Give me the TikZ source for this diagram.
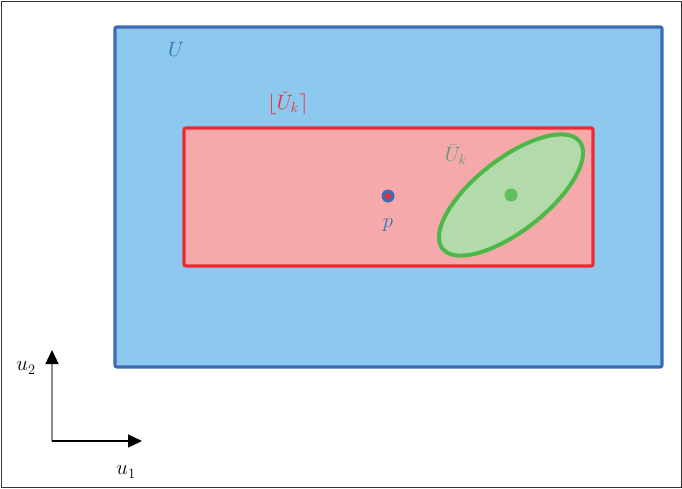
\documentclass[tikz,border=0pt]{standalone}
\usepackage{tikz}
\usetikzlibrary{
  positioning,
  arrows.meta
}
\usepackage{amsmath,amssymb}
\usepackage{xcolor}
\definecolor{skyfill}{HTML}{8DC8EE}
\definecolor{skyline}{HTML}{3E6BB5}
\definecolor{skytext}{HTML}{2E75B6}
\definecolor{rosefill}{HTML}{F5A9AB}
\definecolor{roseline}{HTML}{EE2A2F}
\definecolor{leaffill}{HTML}{B3DAAA}
\definecolor{leafline}{HTML}{4DB848}
\definecolor{leaftext}{HTML}{5A9A7A}

\begin{document}
\begin{tikzpicture}[
  x=1pt, y=-1pt,
  region/.style={line width=3.2pt, rounded corners=2pt},
  lbl/.style={font=\fontsize{21}{25}\selectfont, inner sep=0pt},
  axis/.style={-{Triangle[length=14pt, width=13pt, black]}, line width=1.3pt}
]
  \useasboundingbox (0,0) rectangle (682,488);
  \draw[black!80, line width=0.9pt] (1,1) rectangle (681,487);

  % open set U
  \draw[region, draw=skyline, fill=skyfill] (115,27) rectangle (662,367);
  \node[lbl, skytext] (ulabel) at (176,49) {$U$};

  % box around the chart image
  \draw[region, draw=roseline, fill=rosefill] (184,128) rectangle (593,266);
  \node[lbl, roseline] (boxlabel) at (288,103) {$\lfloor \check{U}_k \rceil$};

  % point p
  \node[circle, fill=skyline, minimum size=13pt, inner sep=0pt] (p) at (388,196) {};
  \node[circle, fill=roseline, minimum size=6pt, inner sep=0pt] at (p) {};
  \node[lbl, skytext, below=16pt of p] (plabel) {$p$};

  % ellipsoid
  \draw[line width=4pt, draw=leafline, fill=leaffill, rotate around={38:(511,195)}]
    (511,195) ellipse [x radius=87, y radius=36];
  \node[circle, fill=leafline!90, minimum size=13pt, inner sep=0pt] (centre) at (511,195) {};
  \node[lbl, leaftext] (ellabel) at (456,155) {$\bar{U}_k$};

  % coordinate axes
  \coordinate (origin) at (52,441);
  \coordinate (up) at (52,350);
  \coordinate (right) at (142,441);
  \draw[axis, black!45] (origin) -- (up);
  \draw[axis] (origin) -- (right);
  \node[lbl] (utwo) at (26,368) {$u_2$};
  \node[lbl] (uone) at (126,472) {$u_1$};
\end{tikzpicture}
\end{document}
